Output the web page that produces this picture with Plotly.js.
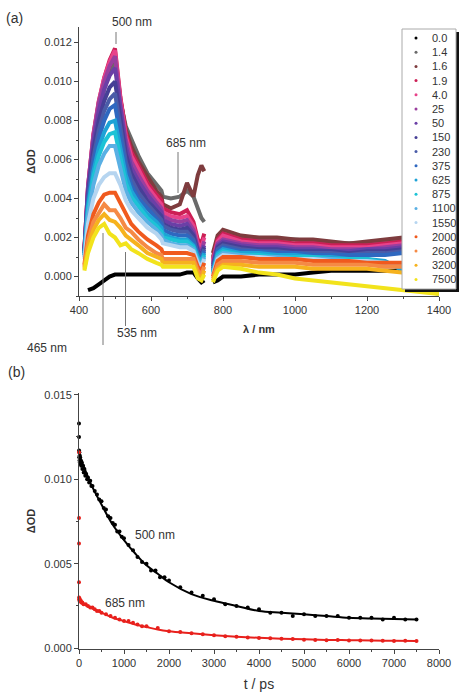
<!DOCTYPE html>
<html><head><meta charset="utf-8">
<script src="https://cdn.plot.ly/plotly-3.0.1.min.js"></script>
<style>html,body{margin:0;padding:0;background:#fff;}#chart{width:459px;height:693px;}</style>
</head><body><div id="chart"></div>
<script>
// ---------- panel (a): transient spectra ----------
const wavelength = [415,425,440,455,470,485,500,515,530,545,565,590,615,629,633,655,680,700,718,730,740,748,760,772,785,800,850,900,950,1000,1050,1100,1150,1200,1250,1300,1350,1400];
const delayLabels = ['0.0','1.4','1.6','1.9','4.0','25','50','150','230','375','625','875','1100','1550','2000','2600','3200','7500'];
const delayColors = ['#000000','#6a6a6a','#7e3c3e','#cc1f55','#e8428a','#9a3f9e','#6b3fa6','#463f96','#4a5ca8','#2f68c0','#1ea2d6','#1dc3d6','#5ab0e4','#b6d5f0','#f05a1e','#f58a45','#f6b21e','#f2e31c'];

const dOD_0p0  = [null,-0.0007,-0.0006,-0.0004,-0.0002,0.0000,0.0001,0.0001,0.0001,0.0001,0.0001,0.0001,0.0001,0.0001,0.0001,0.0001,0.0001,0.0002,0.0002,-0.0001,-0.0003,-0.0002,null,-0.0003,-0.0002,0.0000,0.0000,0.0001,0.0001,0.0001,0.0002,0.0003,0.0003,0.0003,0.0003,0.0003,0.0000,-0.0004];
const dOD_1p4  = [0.0012,0.0040,0.0066,0.0083,0.0096,0.0105,0.0110,0.0090,0.0077,0.0070,0.0062,0.0053,0.0047,0.0044,0.0041,0.0040,0.0041,0.0044,0.0041,0.0035,0.0030,0.0028,null,0.0010,0.0019,0.0022,0.0020,0.0019,0.0019,0.0019,0.0018,0.0017,0.0017,0.0017,0.0018,0.0019,0.0018,0.0018];
const dOD_1p6  = [0.0013,0.0043,0.0069,0.0086,0.0099,0.0108,0.0113,0.0091,0.0075,0.0067,0.0059,0.0051,0.0044,0.0041,0.0037,0.0035,0.0037,0.0048,0.0041,0.0052,0.0057,0.0054,null,0.0012,0.0021,0.0024,0.0021,0.0020,0.0020,0.0019,0.0019,0.0018,0.0017,0.0018,0.0019,0.0020,0.0019,0.0019];
const dOD_1p9  = [0.0014,0.0046,0.0073,0.0090,0.0102,0.0111,0.0117,0.0092,0.0074,0.0064,0.0057,0.0048,0.0042,0.0039,0.0035,0.0033,0.0032,0.0034,0.0028,0.0019,0.0017,0.0022,null,0.0009,0.0019,0.0022,0.0019,0.0018,0.0018,0.0017,0.0017,0.0016,0.0016,0.0016,0.0017,0.0018,0.0017,0.0017];
const dOD_4p0  = [0.0014,0.0046,0.0073,0.0090,0.0102,0.0110,0.0116,0.0091,0.0072,0.0062,0.0055,0.0046,0.0040,0.0037,0.0033,0.0031,0.0030,0.0031,0.0026,0.0017,0.0015,0.0020,null,0.0008,0.0018,0.0021,0.0018,0.0017,0.0017,0.0016,0.0016,0.0015,0.0015,0.0015,0.0016,0.0017,0.0016,0.0016];
const dOD_25   = [0.0014,0.0046,0.0072,0.0089,0.0100,0.0108,0.0113,0.0088,0.0070,0.0059,0.0052,0.0044,0.0038,0.0035,0.0031,0.0029,0.0028,0.0029,0.0024,0.0015,0.0013,0.0018,null,0.0007,0.0017,0.0019,0.0017,0.0016,0.0016,0.0015,0.0015,0.0014,0.0014,0.0014,0.0015,0.0016,0.0015,0.0015];
const dOD_50   = [0.0013,0.0044,0.0069,0.0085,0.0096,0.0103,0.0107,0.0085,0.0067,0.0056,0.0049,0.0042,0.0036,0.0033,0.0029,0.0027,0.0026,0.0027,0.0022,0.0014,0.0012,0.0016,null,0.0006,0.0016,0.0018,0.0016,0.0015,0.0015,0.0014,0.0014,0.0013,0.0013,0.0014,0.0014,0.0015,0.0014,0.0014];
const dOD_150  = [0.0013,0.0042,0.0065,0.0080,0.0090,0.0097,0.0100,0.0080,0.0063,0.0053,0.0046,0.0039,0.0034,0.0031,0.0027,0.0025,0.0024,0.0025,0.0021,0.0013,0.0011,0.0015,null,0.0005,0.0015,0.0017,0.0015,0.0014,0.0014,0.0013,0.0013,0.0013,0.0012,0.0013,0.0013,0.0014,0.0013,0.0013];
const dOD_230  = [0.0012,0.0040,0.0061,0.0075,0.0085,0.0091,0.0094,0.0075,0.0059,0.0050,0.0043,0.0037,0.0032,0.0029,0.0026,0.0024,0.0023,0.0023,0.0019,0.0012,0.0010,0.0014,null,0.0004,0.0014,0.0016,0.0014,0.0013,0.0013,0.0012,0.0012,0.0012,0.0011,0.0012,0.0012,0.0013,0.0012,0.0012];
const dOD_375  = [0.0012,0.0038,0.0058,0.0071,0.0080,0.0086,0.0088,0.0071,0.0056,0.0047,0.0040,0.0035,0.0030,0.0027,0.0024,0.0022,0.0021,0.0021,0.0018,0.0011,0.0009,0.0013,null,0.0003,0.0013,0.0015,0.0013,0.0013,0.0012,0.0012,0.0011,0.0011,0.0011,0.0011,0.0011,0.0012,0.0011,0.0011];
const dOD_625  = [0.0011,0.0036,0.0054,0.0066,0.0074,0.0079,0.0080,0.0065,0.0052,0.0044,0.0038,0.0032,0.0028,0.0025,0.0022,0.0020,0.0019,0.0019,0.0016,0.0010,0.0008,0.0012,null,0.0002,0.0012,0.0014,0.0012,0.0012,0.0011,0.0011,0.0010,0.0010,0.0009,0.0009,0.0008,0.0003,-0.0006,-0.0009];
const dOD_875  = [0.0011,0.0034,0.0051,0.0062,0.0069,0.0073,0.0074,0.0060,0.0048,0.0041,0.0036,0.0030,0.0026,0.0023,0.0020,0.0019,0.0018,0.0018,0.0015,0.0009,0.0007,0.0011,null,0.0002,0.0011,0.0013,0.0011,0.0011,0.0010,0.0010,0.0010,0.0009,0.0009,0.0009,0.0007,0.0005,-0.0002,-0.0006];
const dOD_1100 = [0.0010,0.0031,0.0047,0.0057,0.0063,0.0067,0.0067,0.0055,0.0044,0.0038,0.0033,0.0028,0.0024,0.0021,0.0019,0.0017,0.0016,0.0016,0.0014,0.0008,0.0006,0.0010,null,0.0001,0.0010,0.0012,0.0011,0.0010,0.0010,0.0009,0.0009,0.0009,0.0008,0.0008,0.0006,0.0006,0.0003,0.0000];
const dOD_1550 = [0.0009,0.0027,0.0040,0.0047,0.0051,0.0053,0.0053,0.0047,0.0039,0.0034,0.0030,0.0025,0.0022,0.0019,0.0017,0.0016,0.0015,0.0015,0.0013,0.0007,0.0005,0.0009,null,0.0001,0.0009,0.0011,0.0010,0.0010,0.0009,0.0009,0.0009,0.0008,0.0008,0.0008,0.0007,0.0006,0.0004,0.0001];
const dOD_2000 = [0.0006,0.0021,0.0032,0.0038,0.0042,0.0043,0.0043,0.0038,0.0032,0.0027,0.0023,0.0019,0.0016,0.0014,0.0012,0.0012,0.0012,0.0012,0.0011,0.0005,0.0003,0.0007,null,0.0000,0.0008,0.0010,0.0010,0.0009,0.0009,0.0009,0.0008,0.0008,0.0008,0.0007,0.0007,0.0007,0.0005,0.0003];
const dOD_2600 = [0.0005,0.0018,0.0028,0.0033,0.0037,0.0034,0.0034,0.0030,0.0025,0.0023,0.0019,0.0015,0.0012,0.0011,0.0009,0.0009,0.0009,0.0009,0.0009,0.0003,0.0001,0.0005,null,-0.0001,0.0006,0.0008,0.0008,0.0007,0.0007,0.0007,0.0006,0.0006,0.0006,0.0006,0.0005,0.0005,0.0003,0.0001];
const dOD_3200 = [0.0004,0.0015,0.0024,0.0029,0.0032,0.0029,0.0028,0.0025,0.0021,0.0019,0.0016,0.0012,0.0010,0.0009,0.0007,0.0007,0.0007,0.0007,0.0007,0.0001,-0.0001,0.0003,null,-0.0002,0.0004,0.0006,0.0006,0.0005,0.0005,0.0005,0.0004,0.0004,0.0004,0.0004,0.0003,0.0002,0.0001,-0.0001];
const dOD_7500 = [0.0003,0.0012,0.0020,0.0025,0.0027,0.0022,0.0020,0.0016,0.0017,0.0014,0.0012,0.0009,0.0007,0.0006,0.0005,0.0005,0.0005,0.0005,0.0005,-0.0001,-0.0002,0.0001,null,-0.0003,0.0003,0.0005,0.0004,0.0002,0.0001,-0.0001,-0.0002,-0.0003,-0.0004,-0.0005,-0.0006,-0.0007,-0.0008,-0.0009];
const spectra = [dOD_0p0,dOD_1p4,dOD_1p6,dOD_1p9,dOD_4p0,dOD_25,dOD_50,dOD_150,dOD_230,dOD_375,dOD_625,dOD_875,dOD_1100,dOD_1550,dOD_2000,dOD_2600,dOD_3200,dOD_7500];

// ---------- panel (b): kinetics ----------
const t500  = [0,0,2,5,8,12,16,20,25,30,40,50,60,75,90,105,120,140,160,180,200,225,250,275,300,350,400,450,500,550,600,650,700,750,800,850,900,950,1000,1100,1200,1300,1400,1500,1600,1700,1800,1900,2000,2250,2500,2750,3000,3250,3500,3750,4000,4250,4500,4750,5000,5250,5500,5750,6000,6250,6500,6750,7000,7250,7500];
const od500 = [0.0133,0.0125,0.0117,0.0113,0.0116,0.0111,0.0114,0.0110,0.0113,0.0109,0.0111,0.0108,0.0110,0.0106,0.0108,0.0104,0.0106,0.0102,0.0103,0.0100,0.0101,0.0098,0.0099,0.0096,0.0096,0.0093,0.0091,0.0088,0.0087,0.0083,0.0082,0.0078,0.0077,0.0074,0.0073,0.0069,0.0069,0.0066,0.0065,0.0061,0.0058,0.0054,0.0051,0.0050,0.0046,0.0046,0.0042,0.0042,0.0040,0.0036,0.0033,0.0031,0.0029,0.0026,0.0025,0.0024,0.0023,0.0021,0.0021,0.0019,0.0020,0.0019,0.0019,0.0019,0.0018,0.0018,0.0018,0.0017,0.0018,0.0017,0.0017];
const t685  = [0,0,0,0,2,5,10,20,30,40,50,75,100,150,200,250,300,350,400,450,500,600,700,800,900,1000,1100,1200,1300,1400,1500,1750,2000,2250,2500,2750,3000,3250,3500,3750,4000,4250,4500,4750,5000,5250,5500,5750,6000,6250,6500,6750,7000,7250,7500];
const od685 = [0.0116,0.0077,0.0062,0.0039,0.0030,0.0029,0.0028,0.0029,0.0028,0.0028,0.0027,0.0027,0.0026,0.0026,0.0025,0.0024,0.0024,0.0023,0.0022,0.0022,0.0021,0.0020,0.0019,0.0018,0.0017,0.0016,0.0016,0.0015,0.0014,0.0013,0.0013,0.0012,0.0010,0.00095,0.00088,0.00082,0.00076,0.00071,0.00067,0.00063,0.00060,0.00058,0.00055,0.00054,0.00050,0.00049,0.00047,0.00048,0.00046,0.00045,0.00045,0.00044,0.00043,0.00044,0.00043];
const fitT   = [0,100,250,500,750,1000,1250,1500,1750,2000,2500,3000,3500,4000,4500,5000,5500,6000,6500,7000,7500];
const fit500 = [0.0115,0.0108,0.0098,0.0085,0.0073,0.0064,0.0056,0.0049,0.0044,0.0039,0.0032,0.0028,0.0025,0.0022,0.0021,0.0020,0.0019,0.0018,0.00175,0.00172,0.0017];
const fit685 = [0.0028,0.0026,0.0024,0.0021,0.0018,0.0016,0.0014,0.00125,0.0011,0.0010,0.00088,0.00077,0.00068,0.00061,0.00056,0.00052,0.00049,0.00047,0.00045,0.00044,0.00043];

// ---------- geometry helpers (pixel -> paper) ----------
const W = 459, H = 693, ML = 79, MR = 20, MT = 27, MB = 44;
const PW = W - ML - MR, PH = H - MT - MB;
const px = x => (x - ML) / PW;
const py = y => (H - MB - y) / PH;

const FONT = 'Liberation Sans, Arial, sans-serif';
const INK = '#333333';

const traces = [];
spectra.forEach((ys, i) => {
  traces.push({x: wavelength, y: ys, type: 'scatter', mode: 'lines', xaxis: 'x', yaxis: 'y',
    line: {color: delayColors[i], width: 4}, connectgaps: false, showlegend: false, name: delayLabels[i]});
});
traces.push({x: t500, y: od500, type: 'scatter', mode: 'markers', xaxis: 'x2', yaxis: 'y2',
  marker: {color: '#000', size: 4}, showlegend: false, cliponaxis: false});
traces.push({x: fitT, y: fit500, type: 'scatter', mode: 'lines', xaxis: 'x2', yaxis: 'y2',
  line: {color: '#000', width: 2, shape: 'spline'}, showlegend: false});
traces.push({x: t685, y: od685, type: 'scatter', mode: 'markers', xaxis: 'x2', yaxis: 'y2',
  marker: {color: '#e8201c', size: 4}, showlegend: false, cliponaxis: false});
traces.push({x: fitT, y: fit685, type: 'scatter', mode: 'lines', xaxis: 'x2', yaxis: 'y2',
  line: {color: '#e8201c', width: 2, shape: 'spline'}, showlegend: false});

const axisCommon = {
  showline: true, linecolor: '#444', linewidth: 1, ticks: 'outside', ticklen: 4, tickwidth: 1,
  tickcolor: '#444', showgrid: false, zeroline: false, tickfont: {family: FONT, size: 11, color: INK}
};

const shapes = [];
const annotations = [];
function vline(x, y0, y1) {
  shapes.push({type: 'line', xref: 'paper', yref: 'paper', x0: px(x), x1: px(x), y0: py(y0), y1: py(y1),
    line: {color: '#777', width: 1}});
}
function label(text, x, y, size, extra) {
  annotations.push(Object.assign({text: text, xref: 'paper', yref: 'paper', x: px(x), y: py(y),
    xanchor: 'center', yanchor: 'middle', showarrow: false, font: {family: FONT, size: size, color: INK}}, extra || {}));
}
label('(a)', 14, 18, 14);
label('(b)', 16, 372, 14);
label('500 nm', 132, 22, 12); vline(116, 32, 44);
label('685 nm', 186, 143, 12); vline(178, 152, 193);
label('535 nm', 137, 333, 12); vline(125.5, 252, 326);
label('465 nm', 47, 348, 12); vline(103, 233, 345);
label('500 nm', 155, 535, 12);
label('685 nm', 125, 603, 12);

// custom legend (delay times in ps)
const LX0 = 402, LX1 = 456, LY0 = 29, LY1 = 289;
shapes.push({type: 'rect', xref: 'paper', yref: 'paper', x0: px(LX0 + 3), x1: px(LX1 + 4), y0: py(LY0 + 3), y1: py(LY1 + 3),
  fillcolor: '#111', line: {width: 0}, layer: 'above'});
shapes.push({type: 'rect', xref: 'paper', yref: 'paper', x0: px(LX0), x1: px(LX1), y0: py(LY0), y1: py(LY1),
  fillcolor: '#fff', line: {color: '#aaa', width: 1}, layer: 'above'});
delayLabels.forEach((lab, i) => {
  const yy = 38 + i * 14.2;
  shapes.push({type: 'circle', xref: 'paper', yref: 'paper', x0: px(414.5), x1: px(417.5), y0: py(yy + 1.5), y1: py(yy - 1.5),
    fillcolor: delayColors[i], line: {width: 0}, layer: 'above'});
  label(lab, 430, yy, 11, {xanchor: 'left'});
});

const layout = {
  width: W, height: H, margin: {l: ML, r: MR, t: MT, b: MB}, paper_bgcolor: '#fff', plot_bgcolor: '#fff',
  showlegend: false, font: {family: FONT, color: INK},
  xaxis: Object.assign({}, axisCommon, {domain: [0, 1], anchor: 'y', range: [400, 1400], tick0: 400, dtick: 200,
    minor: {dtick: 100, ticklen: 2, ticks: 'outside', tickcolor: '#444'},
    title: {text: 'λ / nm', font: {family: FONT, size: 11, color: INK, weight: 'bold'}, standoff: 10}}),
  yaxis: Object.assign({}, axisCommon, {domain: [py(296), 1], anchor: 'x', range: [-0.001, 0.0128], tick0: 0, dtick: 0.002,
    tickformat: '.3f', minor: {dtick: 0.001, ticklen: 2, ticks: 'outside', tickcolor: '#444'},
    title: {text: 'ΔOD', font: {family: FONT, size: 11, color: INK, weight: 'bold'}, standoff: 6}}),
  xaxis2: Object.assign({}, axisCommon, {domain: [0, 1], anchor: 'y2', range: [0, 8000], tick0: 0, dtick: 1000,
    minor: {dtick: 500, ticklen: 2, ticks: 'outside', tickcolor: '#444'},
    title: {text: 't / ps', font: {family: FONT, size: 14, color: INK}, standoff: 10}}),
  yaxis2: Object.assign({}, axisCommon, {domain: [0, py(393)], anchor: 'x2', range: [-0.00005, 0.0151], tick0: 0, dtick: 0.005,
    tickformat: '.3f', minor: {dtick: 0.0025, ticklen: 2, ticks: 'outside', tickcolor: '#444'},
    title: {text: 'ΔOD', font: {family: FONT, size: 11, color: INK, weight: 'bold'}, standoff: 6}}),
  shapes: shapes, annotations: annotations
};

Plotly.newPlot('chart', traces, layout, {staticPlot: true, displayModeBar: false});
</script></body></html>
